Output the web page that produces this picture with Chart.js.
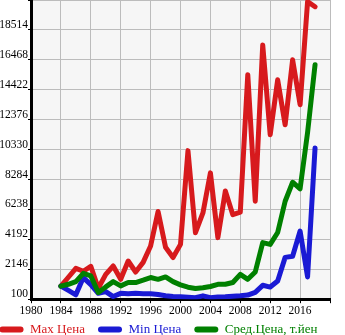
<!DOCTYPE html>
<html>
<head>
<meta charset="utf-8">
<script src="https://cdn.jsdelivr.net/npm/chart.js@4/dist/chart.umd.min.js"></script>
<style>
    html, body { margin: 0; padding: 0; background: #fff; }
    #wrap { width: 345px; height: 335px; }
</style>
</head>
<body>
<div id="wrap"><canvas id="priceChart" width="345" height="335"></canvas></div>
<script>
const years = [1984,1985,1986,1987,1988,1989,1990,1991,1992,1993,1994,1995,1996,1997,1998,1999,2000,
    2001,2002,2003,2004,2005,2006,2007,2008,2009,2010,2011,2012,2013,2014,2015,2016,2017,2018];

const maxPrice = [990,1600,2210,2010,2350,850,1800,2370,1460,2710,1960,2620,3740,6100,3650,2950,3850,
    10260,4650,6000,8740,4310,7500,5880,6050,15450,6800,17490,11350,15100,12030,16470,13400,20450,20100];

const minPrice = [990,700,400,1580,1100,500,620,280,500,480,500,470,480,420,330,280,260,
    230,200,330,200,250,260,300,330,380,570,1050,930,1340,2960,3040,4760,1620,10440];

const avgPrice = [990,1120,1300,1870,1690,560,940,1300,1010,1240,1240,1400,1580,1460,1620,1300,1080,
    920,830,880,970,1120,1120,1240,1800,1460,1960,3970,3850,4660,6800,8100,7650,11500,16130];

const yTicks = [100,2146,4192,6238,8284,10330,12376,14422,16468,18514,20560];
const xTicks = [1980,1984,1988,1992,1996,2000,2004,2008,2012,2016,2020];

const labels = ["Max Цена", "Min Цена", "Сред.Цена, т.йен"];
const colors = ["#d71a1d", "#1a1ad4", "#008000"];

const toPoints = arr => arr.map((v, i) => ({ x: years[i], y: v }));

// plot background, and a tighter legend box at the bottom
const bgPlugin = {
    id: "plotBg",
    beforeLayout(chart) {
        const lg = chart.legend;
        if (lg && !lg._fixed) {
            const origFit = lg.fit.bind(lg);
            lg.fit = function () {
                origFit();
                this.height = 16;
            };
            lg._fixed = true;
        }
    },
    afterLayout(chart) {
        // legend items sit higher and further left than chart.js would put them
        if (chart.legend) {
            chart.legend.top -= 9;
            chart.legend.left -= 28;
        }
    },
    beforeDraw(chart) {
        const a = chart.chartArea;
        const ctx = chart.ctx;
        ctx.save();
        ctx.fillStyle = "#f6f6f6";
        ctx.fillRect(a.left, a.top, a.right - a.left, a.bottom - a.top);
        ctx.restore();
    }
};

const font = { family: "'Liberation Serif', 'Times New Roman', serif", size: 11.5 };

function makeSet(i, data, order) {
    return {
        label: labels[i],
        data: toPoints(data),
        borderColor: colors[i],
        backgroundColor: colors[i],
        borderWidth: 5,
        borderCapStyle: "round",
        borderJoinStyle: "round",
        pointRadius: 0,
        tension: 0,
        fill: false,
        yAxisID: "y",
        order: order
    };
}

new Chart(document.getElementById("priceChart"), {
    type: "line",
    data: {
        datasets: [
            makeSet(0, maxPrice, 2),
            makeSet(1, minPrice, 1),
            makeSet(2, avgPrice, 0)
        ]
    },
    plugins: [bgPlugin],
    options: {
        responsive: false,
        animation: false,
        layout: { padding: 0 },
        plugins: {
            tooltip: { enabled: false },
            legend: {
                position: "bottom",
                labels: {
                    font: { family: font.family, size: 13 },
                    boxWidth: 24,
                    boxHeight: 6,
                    padding: 13,
                    sort: (a, b) => a.datasetIndex - b.datasetIndex,
                    useBorderRadius: true,
                    borderRadius: 3,
                    generateLabels(chart) {
                        return chart.data.datasets.map((ds, i) => ({
                            text: ds.label,
                            fillStyle: ds.borderColor,
                            strokeStyle: ds.borderColor,
                            lineWidth: 0,
                            fontColor: ds.borderColor,
                            borderRadius: 3,
                            datasetIndex: i,
                            hidden: false
                        }));
                    }
                }
            }
        },
        scales: {
            x: {
                type: "linear",
                min: 1980,
                max: 2020,
                afterBuildTicks(scale) {
                    scale.ticks = xTicks.map(v => ({ value: v }));
                },
                ticks: {
                    autoSkip: false,
                    maxRotation: 0,
                    color: "#000",
                    font: font,
                    padding: 1,
                    callback: v => (v === 2020 ? "" : String(v))
                },
                grid: { color: "#bcbcbc", lineWidth: 1, tickLength: 4, tickColor: "#000" },
                border: { color: "#000", width: 3 }
            },
            y: {
                type: "linear",
                min: 100,
                max: 20560,
                afterBuildTicks(scale) {
                    scale.ticks = yTicks.map(v => ({ value: v }));
                },
                afterFit(scale) {
                    scale.width = 31;
                    scale.paddingTop = 0;
                    scale.paddingBottom = 0;
                },
                ticks: {
                    color: "#000",
                    font: font,
                    padding: 0,
                    labelOffset: -5,
                    callback: v => (v === 20560 ? "" : String(v))
                },
                grid: { color: "#bcbcbc", lineWidth: 1, tickLength: 3, tickColor: "#000" },
                border: { color: "#000", width: 3 }
            },
            // empty right axis, only keeps a margin right of the plot
            yRight: {
                type: "linear",
                position: "right",
                min: 0,
                max: 1,
                afterFit(scale) {
                    scale.width = 15;
                    scale.paddingTop = 0;
                    scale.paddingBottom = 0;
                },
                ticks: { display: false },
                grid: { display: false },
                border: { display: false }
            }
        }
    }
});
</script>
</body>
</html>
